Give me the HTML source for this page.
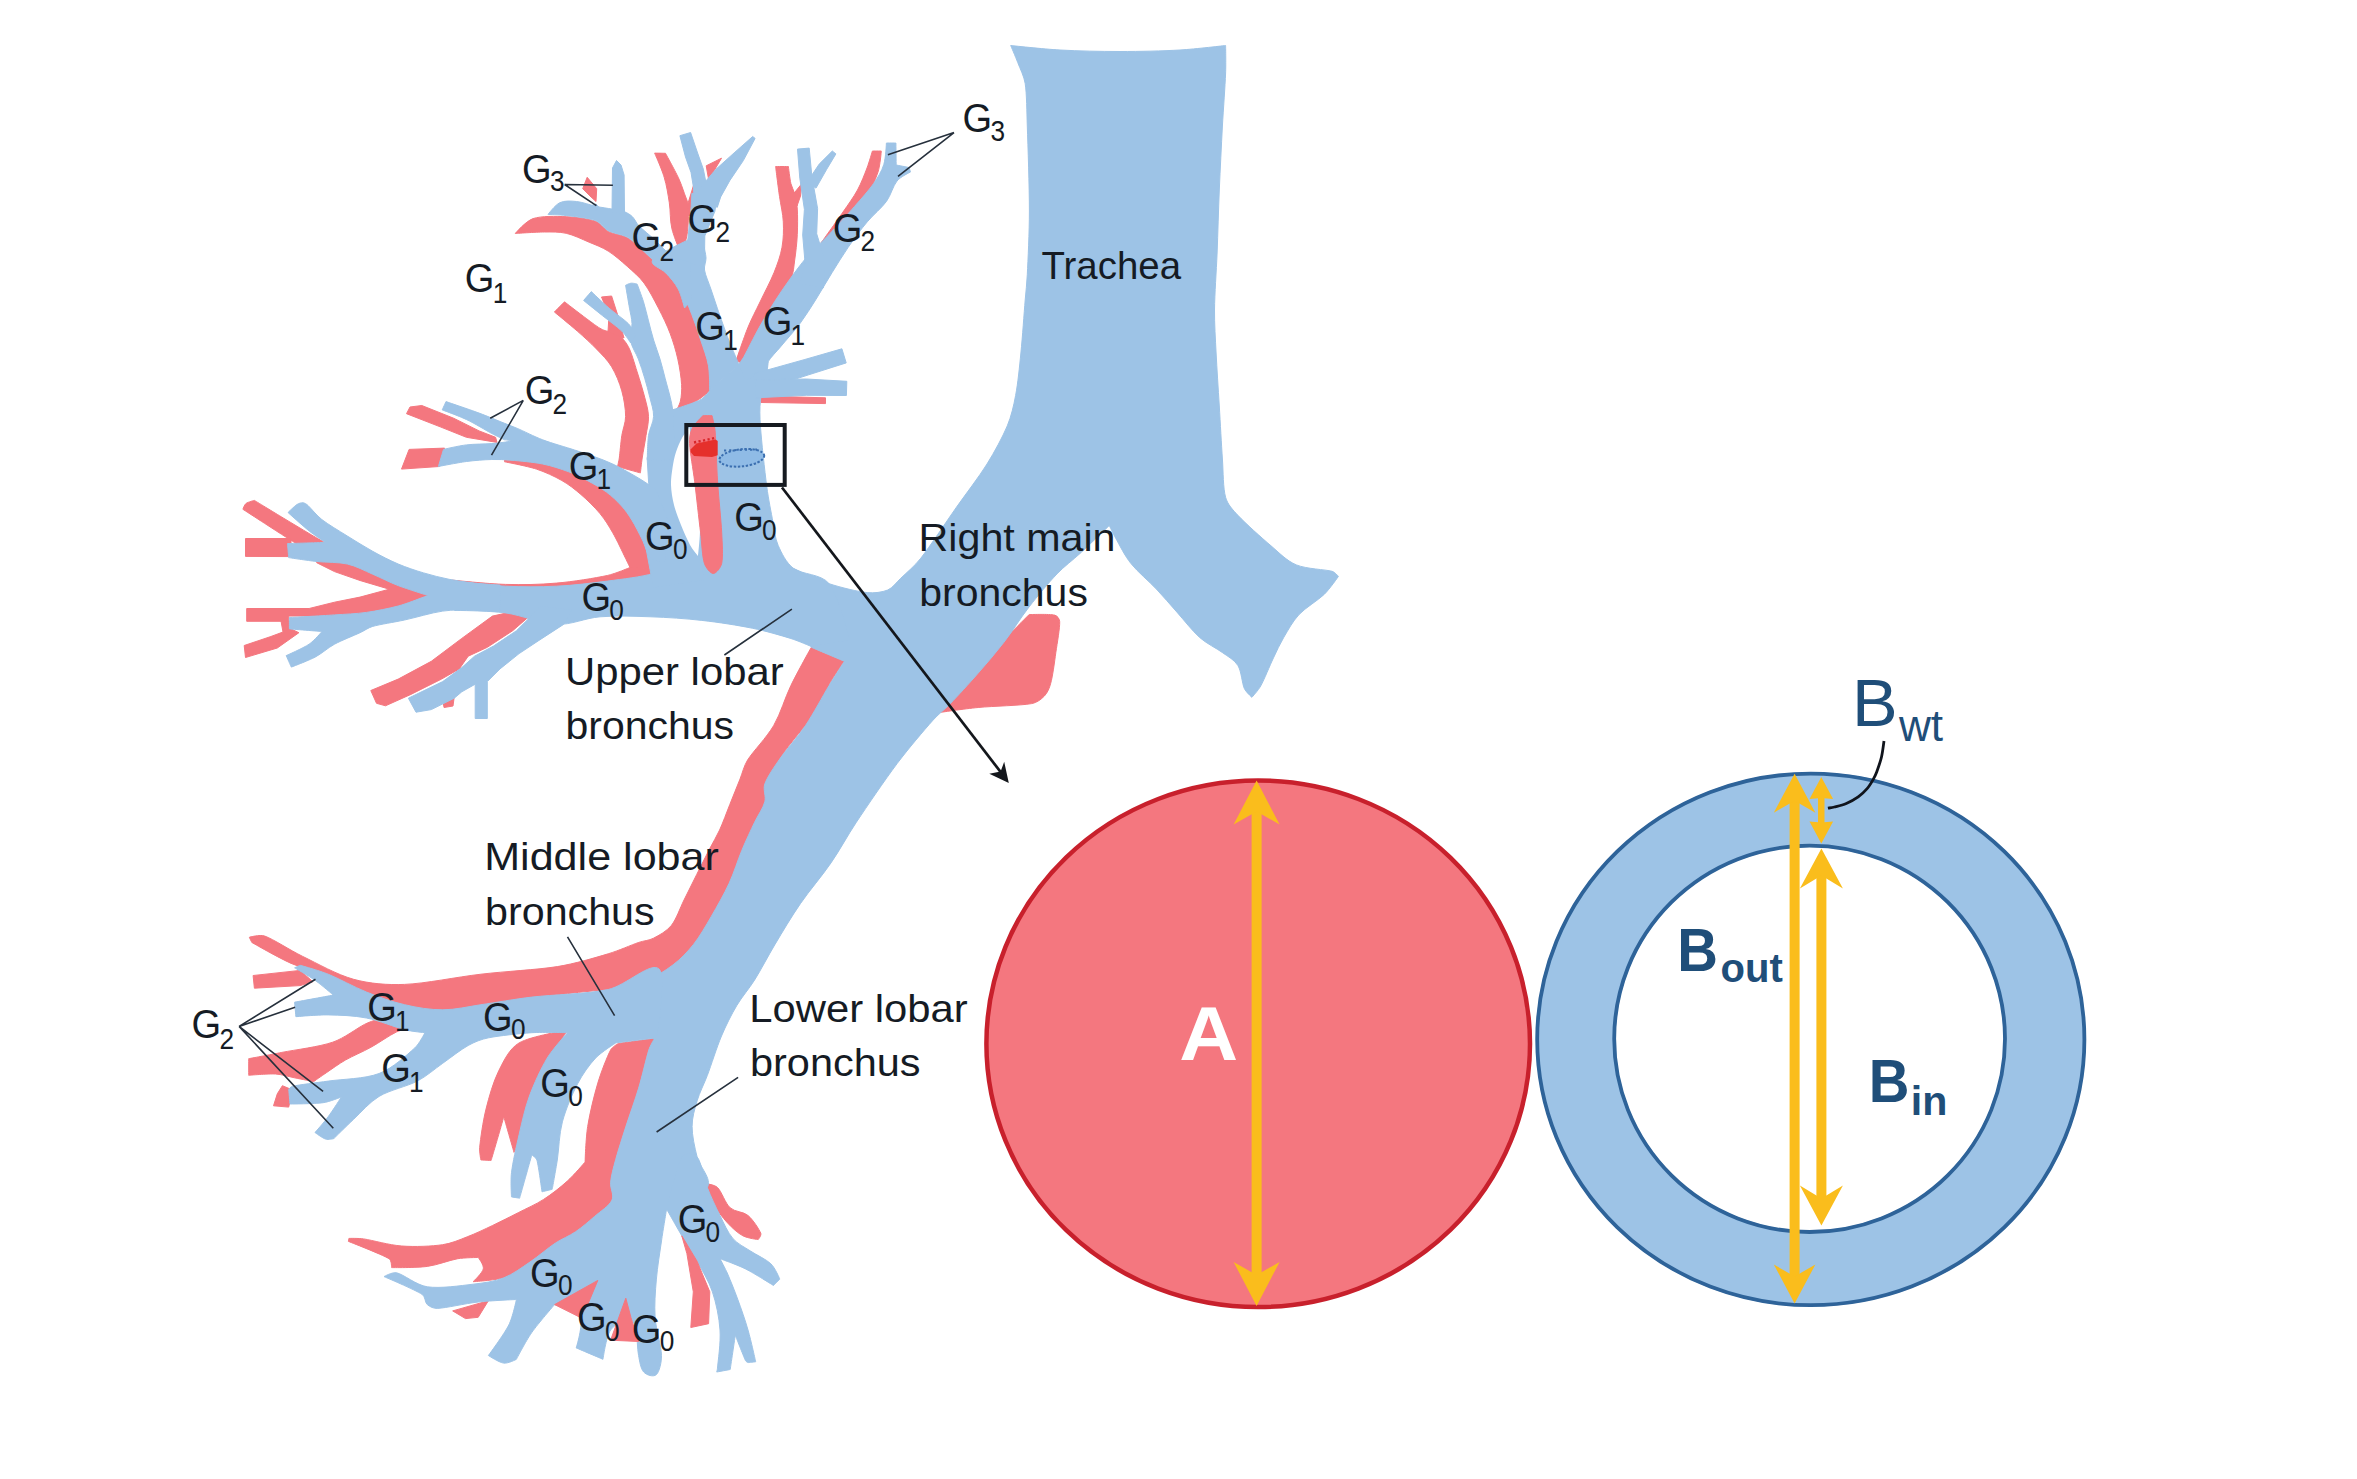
<!DOCTYPE html>
<html><head><meta charset="utf-8"><title>Bronchial tree</title>
<style>html,body{margin:0;padding:0;background:#fff;overflow:hidden}svg{display:block}text{font-family:"Liberation Sans",sans-serif}</style></head><body>
<svg width="2357" height="1479" viewBox="0 0 2357 1479">
<rect width="2357" height="1479" fill="#fff"/>
<g fill="#f4777f" stroke="#f4777f" stroke-width="1" stroke-linejoin="round">
<path d="M1029.1 614.6 C1029.1 614.6 1049.5 613.9 1054.6 615.1 C1057.3 615.7 1059.6 618.9 1059.7 621.7 C1059.9 628 1057.3 642.5 1055.8 652.7 C1054.4 663 1052.7 676.1 1050.7 683.3 C1049.5 687.9 1047.6 692.6 1044.4 696 C1041.2 699.4 1036.5 702.8 1031.7 703.6 C1020.6 705.6 993.7 706 978.2 707.5 C965 708.7 938.7 712.6 938.7 712.6 C938.7 712.6 978.2 665.5 978.2 665.5 C978.2 665.5 1029.1 614.6 1029.1 614.6Z"/>
<path d="M811.3 647.3 C811.3 647.3 844.4 661.3 844.4 661.3 C844.4 661.3 831.3 679 829.1 685.5 C827.5 690.1 833.4 695.8 830.9 700 C827 706.7 813.3 716.4 805.5 725.5 C797 735.2 786 748.8 780 758.5 C775.3 766.4 771.5 776.8 769.8 784 C768.5 789.8 771.7 796.2 769.8 801.8 C767.7 808.2 760.8 815.1 757.1 822.2 C752.9 830.3 748.3 840.7 744.4 850.2 C740.1 860.4 736.6 872.6 731.7 883.3 C726.6 894.3 719.8 906.2 713.8 916.4 C708.3 925.9 702.4 936.1 696 944.4 C690 952.2 683.6 960.1 675.6 966 C666.7 972.6 653.6 979.6 642.6 983.8 C632 987.9 615.2 990.5 609.5 991.5 C608.7 991.6 609 989.4 608.2 989.5 C595.3 990.5 553.1 995 531.8 997.6 C514.8 999.7 495.8 1003.1 480.9 1005.2 C468.2 1007.1 455.5 1010.3 442.7 1010.3 C430 1010.3 417.1 1008.2 404.6 1005.2 C391.8 1002.3 378.8 997.5 366.4 992.5 C353.6 987.4 340.5 979.4 328.2 974.7 C316.6 970.2 304 968.8 292.6 964 C279.8 958.6 251.8 942.4 251.8 942.4 C251.8 942.4 249.3 937.3 249.3 937.3 C249.3 937.3 259.7 934.3 264.6 936 C273.5 939.2 289.8 950.1 302.7 956.4 C317.6 963.6 336.7 974.6 353.6 979.3 C370.1 983.8 387.5 985.1 404.6 984.4 C425.8 983.5 455.5 977.2 480.9 974.2 C506.3 971.2 536.1 969.9 557.3 966.6 C574.6 963.8 594.6 957.9 608.2 953.8 C618.6 950.7 631.2 945 638.8 942.4 C643.6 940.7 649 940.6 653.5 938.2 C658.9 935.4 666.8 931.2 671.3 925.5 C676.4 919.1 679.8 908.5 684 900 C688.2 891.5 692.5 883 696.7 874.5 C700.9 866 705.7 856.5 709.5 849.1 C712.8 842.7 716.6 836.6 719.6 830 C723 822.6 726.4 813 729.8 804.5 C733.2 796 737 786.5 740 779.1 C742.5 772.7 744 765.8 747.6 760 C753.2 751.1 766.4 737.9 773.7 725.5 C780.9 713 784.6 698.5 790.9 685.5 C797.2 672.5 811.3 647.3 811.3 647.3Z"/>
<path d="M253.1 975.5 L300.2 970.4 L312.9 981.8 L300.2 985.6 L254.4 988.2Z"/>
<path d="M248.7 1058.7 C248.7 1058.7 270.8 1054.6 281.8 1052.4 C295.8 1049.7 318.9 1046.9 332.7 1042.2 C344.2 1038.3 356.9 1028.2 364.5 1024.4 C368.9 1022.2 373.7 1020.4 378.5 1019.3 C384.4 1017.9 400 1016 400 1016 C400 1016 414 1027 414 1027 C414 1027 401.9 1029.4 396.4 1032 C389.2 1035.4 379.4 1042.6 370.9 1047.3 C362.6 1051.9 352.9 1055.8 345.5 1060 C338.9 1063.8 331.7 1069.1 326.4 1072.7 C322.1 1075.6 313.6 1081.6 313.6 1081.6 C313.6 1081.6 300.9 1079.1 294.5 1077.8 C288.2 1076.5 281.9 1074.4 275.5 1074 C267.9 1073.6 248.7 1075.3 248.7 1075.3 C248.7 1075.3 248.7 1058.7 248.7 1058.7Z"/>
<path d="M282.4 1085.7 L292.6 1090 L288.7 1107.1 L273.5 1105.8 L277.3 1093.8Z"/>
<path d="M567.5 1030.2 C567.5 1030.2 530.6 1036.1 519.1 1042.9 C509.2 1048.8 503.9 1060.6 498.7 1070.9 C493.2 1082 489.2 1096.4 486 1109.1 C482.9 1121.6 480.5 1138.8 479.7 1147.3 C479.2 1151.5 480.9 1160 480.9 1160 C480.9 1160 491.1 1160.5 491.1 1160.5 C491.1 1160.5 496.6 1141.9 498.7 1134.6 C500.5 1128.6 503.8 1116.7 503.8 1116.7 C503.8 1116.7 507.2 1128.6 508.9 1134.6 C510.6 1140.5 514 1152.4 514 1152.4 C514 1152.4 520 1140.8 521.7 1134.6 C524.2 1125.2 524.8 1108.6 529.3 1096.4 C534 1083.6 543.3 1069.2 549.7 1058.2 C555.2 1048.6 567.5 1030.2 567.5 1030.2Z"/>
<path d="M618.4 1043.4 C618.4 1043.4 656.6 1038.3 656.6 1038.3 C656.6 1038.3 650.3 1045.6 648.7 1050 C645.7 1058.3 642.4 1075.6 638.6 1088.2 C634.7 1100.9 629.7 1114.5 625.8 1126.4 C622.3 1137.4 618.2 1150.1 615.7 1159.5 C613.6 1167 611.2 1175.6 610.6 1182.4 C610 1188.3 614.2 1194.7 611.8 1200.2 C608.9 1207 598.9 1217.2 592.7 1223.1 C587.5 1228.2 580.8 1231.5 574.9 1235.8 C568.6 1240.5 561.6 1246.4 554.6 1251.1 C546.9 1256.2 537.6 1261.9 529.1 1266.4 C520.9 1270.7 512.6 1275.4 503.6 1277.8 C494.3 1280.4 473.1 1281.7 473.1 1281.7 C473.1 1281.7 482.4 1273 483.3 1268.9 C484.1 1264.9 478.2 1257.5 478.2 1257.5 C478.2 1257.5 464.5 1257.6 457.8 1258.7 C449.3 1260.2 437.7 1265 427.3 1266.4 C416.2 1267.9 391.6 1267.6 391.6 1267.6 C391.6 1267.6 391.7 1260.3 389.1 1258.7 C381.9 1254.4 348.4 1241.4 348.4 1241.4 C348.4 1241.4 348.9 1238.4 348.9 1238.4 C348.9 1238.4 358.8 1238.2 363.6 1238.9 C372.5 1240.2 388.9 1245.1 401.8 1246 C415 1247 431.7 1246.3 442.6 1244.7 C451.1 1243.5 459.2 1240 467.2 1236.8 C475.6 1233.6 484.3 1229.4 492.7 1225.4 C501.2 1221.4 509.7 1217 518.2 1212.7 C526.6 1208.3 535.6 1204.6 543.6 1199.4 C551.8 1194.2 560.4 1187.3 567.3 1181.1 C573.8 1175.3 585.1 1162 585.1 1162 C585.1 1162 585.8 1138.1 587.7 1126.4 C589.8 1113.2 594 1095.8 597.8 1083.1 C601.2 1071.8 607.1 1056.6 610.6 1050 C612.1 1047 618.4 1043.4 618.4 1043.4Z"/>
<path d="M452.7 1310.9 L488.4 1300.7 L478.2 1317.3 L465.5 1318.6Z"/>
<path d="M704.8 1183.6 C704.8 1183.6 714.3 1184.4 717.5 1187.5 C721.7 1191.5 725.1 1203.2 730.2 1207.8 C735 1212.2 743.1 1211.3 748 1215.5 C753.1 1219.7 759.1 1229.3 760.8 1233.3 C761.6 1235.4 758.2 1239.6 758.2 1239.6 C758.2 1239.6 747.6 1238.3 742.9 1235.8 C737.8 1233.1 732.2 1228 727.7 1223.1 C722.6 1217.6 716.2 1209.3 712.4 1202.7 C708.9 1196.8 704.8 1183.6 704.8 1183.6Z"/>
<path d="M421.8 405.5 L453.6 418.2 L479.1 430.9 L495.6 437.3 L497 442.4 L466.4 437.3 L440.9 427.1 L406.5 413.7 L410 407Z"/>
<path d="M409.1 449.4 L444.5 448.1 L439.4 466.5 L401.5 469.1Z"/>
<path d="M504.5 460 C504.5 460 532.1 461.2 542.7 463 C551.4 464.5 560.8 467.9 568.2 470.6 C574.8 473 581.1 476.2 587.3 479.5 C593.7 482.9 600.7 486.8 606.4 491 C611.9 495.1 617.4 500.3 621.6 505 C625.5 509.3 628.8 514.1 631.8 519 C635.2 524.5 638.8 531.7 642 538.1 C645.1 544.4 648.4 552.1 650.9 557.2 C652.8 561.2 657 568.9 657 568.9 C657 568.9 630.2 568 630.2 568 C630.2 568 627.1 561.4 625.5 558.2 C622.6 552.3 617 540.1 612.7 532.7 C608.9 526.1 604.9 519.5 600 513.6 C594.7 507.2 587.3 500 580.9 494.5 C574.9 489.3 568.7 484.4 561.8 480.5 C554.4 476.3 545.2 472 536.4 469.1 C526.9 466 504.5 461.8 504.5 461.8 C504.5 461.8 504.5 460 504.5 460Z"/>
<path d="M452 580.1 C452 580.1 488.1 583.9 505.5 584.4 C522.4 584.9 539.5 584.6 556.4 583.1 C573.4 581.7 595 578.1 607.3 575.5 C615.2 573.8 630.2 567.4 630.2 567.4 C630.2 567.4 656.9 568.9 656.9 568.9 C656.9 568.9 653.1 583.6 653.1 583.6 C653.1 583.6 454.6 591.3 454.6 591.3 C454.6 591.3 452 580.1 452 580.1Z"/>
<path d="M254.4 500.4 C254.4 500.4 274.5 512.7 283.6 518.2 C292.1 523.3 302.3 529.5 309.1 533.5 C314.2 536.5 324.4 542.4 324.4 542.4 C324.4 542.4 300 546 300 546 C300 546 290.8 540.2 286.2 537.3 C280.3 533.5 271.7 528 264.5 523.3 C257.3 518.6 242.9 509.3 242.9 509.3 C242.9 509.3 244.3 504.8 246 503.5 C247.9 502 254.4 500.4 254.4 500.4Z"/>
<path d="M245.5 538.5 L291 538.5 L291 556.6 L245.5 556.4Z"/>
<path d="M316.7 560 L347.3 563 L372.7 573 L398.2 584.5 L428 595.5 L423.6 598 L398.2 607 L366.4 613.4 L334.5 616 L288.7 616 L288.7 621.3 L246.7 621.3 L246.7 608.5 L309.1 608.5 L334.5 602.2 L360 597.1 L389.3 589.2 L360 580.5 L334.5 571.6 L316.7 562.7Z"/>
<path d="M281 621 L291 621 L291 629 L298.9 632.7 L277.3 648 L245.5 657.5 L244.2 645.5 L270.9 636.5 L283 632Z"/>
<path d="M492.4 616.1 L461.8 638.4 L431.3 661.3 L398.2 679.1 L370.8 690.5 L376.5 703.3 L385.5 705.8 L410.9 694.4 L441.5 679.1 L459.3 668.9 L468.2 656.2 L487.3 647.3 L512.7 630.7 L528 617.4 L520 610Z"/>
<path d="M442.7 699 L454.2 697 L453 706 L444 707.5Z"/>
<path d="M554.4 312 C554.4 312 564.5 301.8 564.5 301.8 C564.5 301.8 579.8 313.7 586.2 318.4 C591.6 322.4 597.6 327.3 602.7 329.8 C607 332 612.6 331 616.7 333.6 C621 336.4 625.5 341.3 628.2 346.4 C631.6 352.8 634.4 363.3 637.1 371.8 C639.8 380.2 642.8 389.9 644.7 397.3 C646.3 403.6 648.3 410 648.5 416.4 C648.7 422.8 647 429.2 646 435.5 C645 442.4 643.1 451.8 642.2 458 C641.5 462.9 640.4 472.9 640.4 472.9 C640.4 472.9 617.5 466.6 617.5 466.6 C617.5 466.6 618.9 460.9 619.3 458 C620 452.8 620.8 442.4 621.8 435.5 C622.8 429.1 625.6 422.9 625.6 416.4 C625.6 409 624.1 399.2 621.8 390.9 C619.5 382.6 615.8 373.7 611.6 366.7 C607.6 360 601.8 354.5 596.4 348.9 C590.7 343 583.8 336.8 577.3 331.1 C570.3 325 554.4 312 554.4 312Z"/>
<path d="M601.5 297 L611.6 296 L618 316 L624 338 L608 332 L609 315Z"/>
<path d="M515.3 233.5 C515.3 233.5 525.8 221 533.1 218.6 C541.6 215.8 555.8 216.3 566.2 216.7 C576.1 217.1 588.5 218.8 595.5 221.2 C600.6 223 603.4 228.9 608.2 231.4 C613.5 234.2 622 234.8 627.3 237.7 C632.2 240.3 635.8 244.8 640 248.5 C644.2 252.2 648.6 256.1 652.7 260 C657 264 661.4 268.3 665.5 272.7 C670.1 277.6 676.5 282.8 680.4 289.1 C684.8 296.1 688.4 306 691.8 314.5 C695.1 322.9 697.9 331.5 700.7 340 C703.4 348.4 706.9 357 708.4 365.5 C709.9 373.8 709.6 390.9 709.6 390.9 C709.6 390.9 702.3 397.2 698.2 399.8 C692.5 403.4 675.3 412.6 675.3 412.6 C675.3 412.6 679.5 405.2 680.4 401.1 C681.5 396.4 681.9 390 681.6 384.5 C681.2 377.5 679.7 367.5 677.8 359.1 C675.9 350.6 673.3 341.9 670.2 333.6 C667 325.1 662.8 316.5 658.5 308.2 C654.1 299.8 649.2 290 644 283 C639.3 276.7 633.2 271.6 627.3 266.4 C621.3 261.1 614.6 255.1 608.2 251.1 C602.3 247.3 595.6 244.9 589.1 242.2 C582.1 239.2 573.6 235 566.2 233.3 C559.1 231.7 551.7 232 544.5 232 C536 232 515.3 233.5 515.3 233.5Z"/>
<path d="M654.6 153.1 C654.6 153.1 665.5 153.3 665.5 153.3 C665.5 153.3 675 170.6 678.2 177.3 C680.7 182.6 682.8 188.9 684.5 193.8 C686 198 688.1 202.1 688.4 206.5 C688.8 213.3 688.2 226.8 687.1 234.5 C686.2 240.6 682 252.4 682 252.4 C682 252.4 680.7 253 680.7 253 C680.7 253 673.7 236.6 671.8 228.2 C669.9 219.9 670.6 211.1 669.3 202.7 C668 194.2 666.7 185.6 664.2 177.3 C661.8 169 654.6 153.1 654.6 153.1Z"/>
<path d="M687.5 205 L694.7 181.5 L696.5 191.3 L689 216Z"/>
<path d="M706.2 165.8 L721.5 158.2 L708.7 179.8Z"/>
<path d="M775.6 166.5 C775.6 166.5 788.4 166.5 788.4 166.5 C788.4 166.5 789.8 179 790.9 183.6 C791.7 187.1 793.8 190.3 794.7 193.8 C795.8 198.1 797 203.9 797.3 209.1 C797.7 215.9 797.7 226 797.3 234.5 C796.9 243 795.8 252.6 794.7 260 C793.8 266.4 793.6 273.2 790.9 279.1 C787.3 287.1 777.2 300.9 773.1 308 C770.5 312.5 768.7 317.5 766 322 C760.6 331.1 741 362.5 741 362.5 C741 362.5 736 361 736 361 C736 361 744 337.1 748 327.3 C751.5 318.7 756 310.4 760 302 C764.3 292.9 770.3 281.8 774 272.7 C777.3 264.5 780.5 255.8 782 247.3 C783.5 238.9 783.7 230.3 783.3 221.8 C782.9 213.3 780.7 204.9 779.5 196.4 C778.2 187.2 775.6 166.5 775.6 166.5Z"/>
<path d="M794.2 193 L801.5 184 L800.5 196 L797 206Z"/>
<path d="M872.4 151 C872.4 151 881.3 151 881.3 151 C881.3 151 880.2 165.3 878 172 C875.5 179.8 870.7 189.7 866 198 C861.3 206.3 856.2 214.6 850 222 C843.3 230 826 246 826 246 C826 246 821 243 821 243 C821 243 836.9 220.8 843 212 C848 204.8 853.5 197.3 857.5 190 C861.3 183 864.5 174.5 867 168 C869.1 162.4 872.4 151 872.4 151Z"/>
<path d="M761 396 L825.5 397.8 L825.5 403.6 L761 402.5Z"/>
<path d="M587.2 177.3 L596.7 188.7 L596 201.5 L590 196 L582.7 188.7Z"/>
</g>
<g fill="#9dc3e6" stroke="#9dc3e6" stroke-width="1" stroke-linejoin="round">
<path d="M1010.7 45.5 C1010.7 45.5 1043.5 49.1 1060 50 C1078.2 51 1100 51.5 1120 51.5 C1140 51.5 1162.4 51 1180 50 C1195.2 49.1 1225.6 45.5 1225.6 45.5 C1225.6 45.5 1226 63.8 1225.6 73 C1225.1 86.4 1223.4 108.3 1222.4 126 C1221.4 145.5 1220.2 168.8 1219.3 190 C1218.4 211 1217.9 233 1217.1 253 C1216.3 272 1214.7 293.3 1214.5 310 C1214.4 324.3 1215.4 338.7 1216.1 353 C1216.9 369 1218.2 388.3 1219.3 406 C1220.3 423.7 1221.4 443.8 1222.4 459 C1223.3 471.8 1223 487.9 1225.6 497.3 C1227.5 504.3 1232.9 510 1237.9 515.3 C1245.5 523.4 1261.2 537.5 1271 545.8 C1279.1 552.7 1286.6 560.8 1296.4 564.9 C1306.6 569.1 1325.1 569.4 1332.1 571.3 C1334.7 572 1338.4 576.4 1338.4 576.4 C1338.4 576.4 1329.8 588.9 1324.4 594.2 C1317.8 600.6 1305.8 607.4 1299 614.6 C1292.7 621.3 1288 630.3 1283.7 637.5 C1279.9 644 1276.7 651 1273.5 657.8 C1269.7 665.8 1264.4 679.2 1260.8 685.8 C1258.5 690.1 1251.9 697.3 1251.9 697.3 C1251.9 697.3 1245.9 692 1244.3 688.4 C1242 683.1 1241.5 671.5 1237.9 665.5 C1234.4 659.8 1228 656.6 1222.6 652.7 C1216.2 648 1206.5 643.6 1199.7 637.5 C1192.1 630.7 1184 620.1 1176.8 612 C1170 604.4 1163.4 596.5 1156.4 589.1 C1148.8 581 1137.8 572.1 1131 563.6 C1124.8 555.9 1119.3 544.6 1115.7 538.2 C1113.4 534.1 1109.3 525.5 1109.3 525.5 C1109.3 525.5 1088.7 545.5 1080 553.5 C1072.5 560.4 1064.1 566.4 1057.1 573.8 C1048.6 582.7 1038 595.5 1029.1 606.9 C1020.2 618.4 1012.2 631.6 1003.7 642.6 C995.6 653.1 986.9 663.1 978.2 673.1 C969.3 683.3 957.8 695.8 950.2 703.7 C944.6 709.5 938.1 714.4 932.8 720.4 C923.9 730.4 908.3 748.7 897.1 763.6 C884.4 780.6 867.4 805.7 856.4 822.2 C847.5 835.5 840.1 849.7 831 862.9 C821.7 876.5 809.7 890.1 800.4 903.7 C791.3 916.9 782.6 931.7 775 944.4 C768 956.1 761 969.8 754.6 980 C749.1 988.8 742.1 996.6 736.8 1005.5 C731.3 1014.8 725.9 1025.5 721.5 1036 C716.6 1047.7 711.4 1064.7 707.3 1075.5 C704.1 1084 699.6 1092.4 697.1 1100.9 C694.6 1109.2 692.1 1117.7 692.1 1126.4 C692.1 1135.7 694.6 1146.9 697.1 1156.9 C699.6 1167.1 712.4 1178.8 707.3 1187.5 C702.2 1196.2 666.6 1209.1 666.6 1209.1 C666.6 1209.1 663 1230.3 661.5 1240.9 C659.8 1252.6 657.5 1266.4 656.4 1279.1 C655.3 1291.8 654.3 1304.6 655.1 1317.3 C656 1330 661.3 1346 661.5 1355.5 C661.6 1362.1 659.4 1371.8 656.4 1374.6 C653.4 1377.3 646.6 1375.2 643.7 1372 C640.7 1368.8 639.6 1361.2 638.6 1355.5 C637.3 1348.5 637.3 1336.4 636 1330 C635.1 1325.4 631 1317 631 1317 C631 1317 615.1 1323.3 610.6 1330 C605.9 1337 603 1359.3 603 1359.3 C603 1359.3 576.2 1347.9 576.2 1347.9 C576.2 1347.9 583.6 1324.5 580 1317.3 C576.4 1310.1 554.6 1304.6 554.6 1304.6 C554.6 1304.6 538.1 1323.5 531.7 1332.6 C525.8 1341 516.4 1359.3 516.4 1359.3 C516.4 1359.3 508.1 1363.7 503.7 1363.1 C499 1362.5 488.4 1355.5 488.4 1355.5 C488.4 1355.5 504.1 1334.3 508.8 1325 C512.8 1317.1 516.4 1299.5 516.4 1299.5 C516.4 1299.5 490.9 1300.6 478.2 1302 C465.1 1303.5 446 1308 437.5 1308.4 C433.9 1308.6 429.9 1306.9 427.3 1304.6 C424.8 1302.3 425.4 1296.5 422.2 1294.4 C415 1289.7 384 1276.6 384 1276.6 C384 1276.6 392.4 1271.8 396.7 1272.8 C403.9 1274.5 416.2 1285.1 427.3 1286.8 C440 1288.7 460.4 1285.7 473.1 1284.2 C483.4 1283 494.2 1281.6 503.7 1277.9 C513.2 1274.2 521.5 1267.7 530 1262 C538.6 1256.2 547.9 1248 555.5 1243 C561.9 1238.8 569.2 1236.1 575.5 1231.8 C582 1227.4 588.4 1221.8 594.5 1216.5 C600.5 1211.3 609.2 1205.9 611.9 1200.2 C614.4 1194.8 610 1188.3 610.6 1182.4 C611.2 1175.6 613.6 1167 615.7 1159.5 C618.2 1150.2 622.4 1137.4 625.9 1126.4 C629.7 1114.5 634.8 1100.9 638.6 1088.2 C642.4 1075.6 646.2 1058.2 648.8 1050 C650 1046.1 654.1 1039.1 654.1 1039.1 C654.1 1039.1 609.5 990.2 609.5 990.2 C609.5 990.2 632.1 986.8 642.6 982.6 C653.2 978.4 664.6 971.2 673.1 964.8 C680.8 959 687.5 951.9 693.5 944.4 C699.9 936.3 705.7 926 711.3 916.4 C717.2 906.2 724 894.3 729.1 883.3 C734.1 872.6 737.6 860.4 741.9 850.2 C745.8 840.7 750.8 830.3 754.6 822.2 C757.9 815.3 763.1 808.2 764.8 801.8 C766.3 796.1 762.8 789.6 764.8 784 C767.3 776.8 774.4 766.7 780 758.6 C786.8 748.9 797.7 737.1 805.5 725.5 C813.7 713.3 822.6 696.2 829.1 685.5 C834 677.3 844.4 661.3 844.4 661.3 C844.4 661.3 811.3 647.3 811.3 647.3 C811.3 647.3 793.5 568.4 793.5 568.4 C793.5 568.4 816.8 579.7 829.1 583.7 C841.4 587.7 857.5 591.6 867.3 592.6 C874.1 593.3 882.2 592.3 887.7 590 C892.9 587.8 896.3 582.5 900.4 578.6 C905.9 573.3 914.9 565.8 920.8 558.2 C930.1 546.3 945.4 523 956.4 507.3 C966.6 492.8 978.5 477.6 987 464 C994.6 451.8 1002.5 437.2 1007.3 425.8 C1011.3 416.1 1013.7 405.8 1015.6 395.5 C1017.9 383.4 1019.5 367.2 1020.9 353 C1022.5 337.1 1024.1 313.1 1025.2 300 C1025.9 291.5 1026.9 283.1 1027.3 274.6 C1028 259.8 1029.4 232.2 1029.4 211 C1029.4 186.2 1028 147.2 1027.3 126 C1026.8 111.9 1026.8 94.2 1025.2 83.6 C1024.1 76.2 1020.1 68.8 1017.7 62.4 C1015.5 56.7 1010.7 45.5 1010.7 45.5Z"/>
<path d="M666.6 1209.1 C666.6 1209.1 676.8 1227.1 681.8 1235.8 C686.8 1244.4 692.4 1252.6 697.1 1261.3 C702.2 1270.6 708.8 1281 712.4 1291.8 C716.2 1303.3 719.2 1317.3 720 1330 C720.9 1342.7 718 1361.2 717.5 1368.2 C717.4 1369.5 716.7 1372 716.7 1372 C716.7 1372 730.2 1369.5 730.2 1369.5 C730.2 1369.5 735.3 1335.1 735.3 1335.1 C735.3 1335.1 743.4 1356 745.5 1360.6 C745.9 1361.6 748 1362.6 748 1362.6 C748 1362.6 755.7 1361.8 755.7 1361.8 C755.7 1361.8 751 1340.4 748 1330 C745.1 1319.7 741.2 1308.8 737.8 1299.5 C734.7 1290.9 730.6 1280.8 727.7 1274 C725.4 1268.8 720 1258.7 720 1258.7 C720 1258.7 737.3 1264.8 745.5 1268.9 C754.4 1273.4 773.5 1285.5 773.5 1285.5 C773.5 1285.5 779.8 1279.1 779.8 1279.1 C779.8 1279.1 775.2 1267.9 770.9 1263.8 C766.1 1259.2 756.9 1255.3 750.6 1251.1 C744.5 1247.1 737.5 1243.9 732.8 1238.4 C727.7 1232.4 723.9 1223.3 720 1215.5 C715.8 1207 711 1197 707.3 1187.5 C703.5 1177.7 701.4 1162 697.1 1156.9 C693.9 1153 684.4 1152.5 681.8 1156.9 C676.8 1165.6 666.6 1209.1 666.6 1209.1Z"/>
<path d="M829.1 583.7 C821.1 573.6 802 574.8 793.5 568.4 C786.2 562.9 781.6 553.1 778.2 545.5 C775 538.4 774.6 530.3 773.1 522.6 C771.2 512.8 768.4 498.9 766.8 486.9 C764.7 470.8 761.4 440.3 760.4 425.8 C759.8 417.2 759.5 408.5 760.5 400 C761.6 391 765.6 378.2 766.9 371.8 C767.6 368.4 768.2 361.6 768.2 361.6 C768.2 361.6 738.9 364.2 738.9 364.2 C738.9 364.2 709.6 390.9 709.6 390.9 C709.6 390.9 703.9 398 700 400 C693.7 403.2 672 410 672 410 C672 410 668.7 430.1 670 440 C671.3 450 679.1 459.5 680 470 C681.7 490 684.5 542.8 680 560 C677.5 569.7 662.8 570.7 653.2 573.5 C641.1 577 622.7 579.1 607.3 581.1 C591.2 583.2 573.4 585.4 556.4 586.2 C539.5 587 522.4 587 505.5 586.2 C488.5 585.4 454.6 581.1 454.6 581.1 C454.6 581.1 454.6 610.4 454.6 610.4 C454.6 610.4 488.7 610.6 505.5 612.9 C522.5 615.2 540.6 623.8 556.4 624.4 C571.1 625 585.3 618 600 616.8 C615.8 615.5 633.9 616.2 650.9 616.8 C667.9 617.4 684.9 618.5 701.8 620.4 C718.8 622.3 737.9 625.3 752.7 628.3 C765.6 630.9 781.1 635.5 790.9 638.5 C797.9 640.7 811.3 646.5 811.3 646.5 C811.3 646.5 850 640 850 640 C850 640 838.5 595.6 829.1 583.7Z"/>
<path d="M703.7 579.9 L698 528.5 L676.9 479.9 L674.5 455.3 L647.1 457.5 L648.7 483.7 L643.9 536.9 L653.4 587.4Z"/>
<path d="M625.6 285.3 C625.6 285.3 629.1 283.4 631 283.2 C632.9 283 637.1 284 637.1 284 C637.1 284 641.6 295.8 643.5 301.8 C645.4 307.9 646.8 314.5 648.5 320.9 C650.2 327.3 651.7 333.7 653.6 340 C655.5 346.4 658.1 352.7 660 359.1 C661.9 365.4 663.4 371.8 665.1 378.2 C666.8 384.6 668.9 392 670.2 397.3 C671.2 401.5 672.2 405.7 672.7 410 C673.3 415.4 673.6 423.3 674 430 C674.5 438.3 676 460 676 460 C676 460 647.3 460 647.3 460 C647.3 460 647.5 442.8 648.5 435.5 C649.4 429 653.4 422.8 653.6 416.4 C653.8 410 651.3 403.6 649.8 397.3 C648.3 390.9 646.6 384.5 644.7 378.2 C642.8 371.8 640.7 365.2 638.4 359.1 C636.1 353.1 631.8 347.2 630.7 341.3 C629.6 335.4 632.2 329 632 323.5 C631.8 318.3 630.4 313.3 629.5 308.2 C628.4 301.8 625.6 285.3 625.6 285.3Z"/>
<path d="M591.3 291.6 C591.3 291.6 603 302.9 609.1 308.2 C615.2 313.5 623.7 319 628.2 323.5 C631.5 326.8 636 335 636 335 C636 335 630.7 343 630.7 343 C630.7 343 625.4 334.6 621.8 331.1 C617.1 326.6 609.1 320.9 602.7 315.8 C596.3 310.7 583.6 300.5 583.6 300.5 C583.6 300.5 591.3 291.6 591.3 291.6Z"/>
<path d="M446 401.6 C446 401.6 469.4 409.5 479.1 413.1 C487.7 416.3 498.1 420.8 504.5 423.3 C508.8 425 513.1 426.6 517.3 428.4 C523.7 431.1 534 436.5 542.7 439.8 C552.2 443.4 566 447.2 574.5 450 C580.9 452.1 587.3 454.1 593.6 456.4 C600 458.7 606.5 461.1 612.7 464 C619.1 467 626.5 471.2 631.8 474.2 C636.1 476.6 640.5 479.2 644.5 481.8 C648.4 484.4 656 490 656 490 C656 490 668 520 668 520 C668 520 665 562 665 562 C665 562 654.3 561.6 650.9 558.2 C647.1 554.4 645.1 545.4 642 539.1 C638.8 532.7 635.2 525.5 631.8 520 C628.8 515.1 625.5 510.3 621.6 506 C617.4 501.3 611.9 496.1 606.4 492 C600.7 487.8 593.7 483.9 587.3 480.5 C581.1 477.2 574.8 474 568.2 471.6 C560.8 468.9 551.4 465.7 542.7 464 C533.2 462.1 519.4 460.9 510.9 460.2 C504.6 459.6 498.2 459.3 491.8 459.5 C484.4 459.7 474.8 460.4 466.4 461.5 C457.5 462.7 438.4 466.5 438.4 466.5 C438.4 466.5 443.5 449.4 443.5 449.4 C443.5 449.4 458.7 445.8 466.4 444.9 C474.4 443.9 484.4 444.2 491.8 443.6 C498.2 443.1 508.8 441.7 510.9 441.1 C513 440.5 504.5 439.8 504.5 439.8 C504.5 439.8 496 435.7 491.8 433.5 C485.4 430.1 474.7 423.4 466.4 419.5 C458.6 415.8 442.2 409.9 442.2 409.9 C442.2 409.9 446 401.6 446 401.6Z"/>
<path d="M288 512.5 C288 512.5 294.5 506.1 297 504.5 C298.7 503.4 301.2 502.6 303 502.8 C304.8 503 306.6 504.2 308 505.5 C311.1 508.3 316.6 515.5 321.8 519.5 C328.4 524.6 338.8 530.7 347.3 536 C355.7 541.2 364.2 546.6 372.7 551.3 C381 555.9 389.7 560.4 398.2 564 C406.5 567.5 415.1 570.4 423.6 572.9 C432 575.4 440.6 577.6 449.1 579.3 C457.5 581 466.1 582.1 474.6 583.1 C483 584 500 585 500 585 C500 585 500 611 500 611 C500 611 483.1 609.8 474.6 609.8 C465.1 609.8 453.2 609.6 442.7 611.1 C431 612.8 416.2 617.5 404.5 620 C393.9 622.3 380.1 624.3 372.7 626.4 C368.2 627.7 364.3 630.7 360 632.7 C353.6 635.7 341.9 640.2 334.5 644.2 C327.8 647.8 322.2 653.3 315.5 656.9 C308.3 660.7 291.3 667.1 291.3 667.1 C291.3 667.1 286.2 655.6 286.2 655.6 C286.2 655.6 303.1 648.2 309.1 644.2 C314.1 640.8 322 631.5 322 631.5 C322 631.5 289.4 628.9 289.4 628.9 C289.4 628.9 289.4 617.5 289.4 617.5 C289.4 617.5 321.7 615.8 334.5 614.9 C345.1 614.2 355.8 613.9 366.4 612.4 C377 610.9 388.7 608.5 398.2 606 C406.9 603.7 418.6 598.9 423.6 597.1 C425.1 596.6 428 595.5 428 595.5 C428 595.5 407.4 589.1 398.2 585.6 C389.5 582.3 381.2 577.8 372.7 574.2 C364.3 570.6 356.2 566 347.3 564 C338 561.9 326.5 562.6 316.7 561.5 C307.3 560.5 288.7 557.6 288.7 557.6 C288.7 557.6 287.5 543.6 287.5 543.6 C287.5 543.6 325.6 542.4 325.6 542.4 C325.6 542.4 314.3 535.1 309.1 530.9 C302.8 525.9 288 512.5 288 512.5Z"/>
<path d="M529.3 618 L516.5 630.7 L493.6 646 L474.5 656.2 L461.8 667.6 L442.7 681.6 L408.4 698.2 L416 712.2 L431.3 709.6 L454.2 698.2 L461.8 691.8 L475.2 684.2 L475.2 718.5 L487.3 718.5 L487.3 681.6 L500 668.9 L519.1 653.6 L538.2 640.9 L563.6 624.4 L572 610 L540 606Z"/>
<path d="M738.9 364.2 C738.9 364.2 742.5 359.2 744 356.5 C747.4 350.4 754.2 336.4 759.3 327.3 C764.1 318.7 769.4 309.9 774.5 301.8 C779.4 294 784.8 286.3 790 279 C795.1 271.9 801.2 263.7 806 258 C810 253.3 815 248.6 818.9 244.7 C822.3 241.3 825.8 238 829.1 234.5 C835 228.1 847.1 215 854.5 206.5 C861 199 868.7 190.6 873.6 183.6 C877.7 177.7 881.7 171.3 883.8 164.5 C885.9 157.7 886.4 143 886.4 143 C886.4 143 895.9 143 895.9 143 C895.9 143 896.2 165 896.2 165 C896.2 165 909 167.5 909 167.5 C909 167.5 910.5 172 910.5 172 C910.5 172 900.4 176.8 897 181 C893 185.9 890.9 195.3 886.4 201.5 C881.4 208.3 873.3 214.7 867.3 221.8 C860.9 229.4 854.1 238.8 848.2 247.3 C842.5 255.6 837.3 264.2 832 272.7 C826.6 281.4 821.3 290.8 816 299.3 C810.8 307.5 805.8 315.7 800 323.5 C794.1 331.4 786.2 340 780.9 346.4 C776.7 351.5 770.5 357.4 768.2 361.6 C766.5 364.6 766.9 371.8 766.9 371.8 C766.9 371.8 745 380 745 380 C745 380 738.9 364.2 738.9 364.2Z"/>
<path d="M823.4 287.8 L825.5 262.6 L816.7 233.8 L817.6 208.5 L811.9 176.6 L809.2 148.1 L797.5 149.1 L799.8 178.2 L804.4 209.4 L802.7 235 L805.1 263.3 L799.5 283.8Z"/>
<path d="M816 188.1 L826.7 169.3 L835.9 153.9 L832.3 151 L819.2 164.1 L806.9 182.5Z"/>
<path d="M652.7 260 C649.3 265 661.4 268.3 665.5 272.7 C670.1 277.6 676.5 282.8 680.4 289.1 C684.8 296.1 688.4 306 691.8 314.5 C695.1 322.9 697.9 331.5 700.7 340 C703.4 348.4 706.9 357 708.4 365.5 C709.9 373.8 709.6 390.9 709.6 390.9 C709.6 390.9 738.9 364.2 738.9 364.2 C738.9 364.2 731.9 348.2 728.7 340 C725.1 330.7 720.3 316.7 717.3 308.2 C715.1 301.9 713 295.5 710.9 289.1 C708.8 282.7 705.3 275.2 704.5 270 C703.9 266 706.1 261.8 706 258 C705.9 254.3 704 247 704 247 C704 247 688 240 688 240 C688 240 656.5 254.6 652.7 260Z"/>
<path d="M702.6 267.1 L704.6 249.5 L704.8 235.9 L714.9 211.3 L717.2 196.1 L691.9 193.3 L691.2 206.6 L688.5 232.9 L687.2 245.8 L678.5 258.7Z"/>
<path d="M708.2 201.3 L706.5 185.2 L703.3 169.1 L697.6 153 L690.6 132.5 L679.9 135.7 L685.5 157 L691 172.4 L693.4 186.9 L694.3 202.4Z"/>
<path d="M717.3 207.3 L720.7 196.9 L729.9 180.4 L743.3 160.6 L755.1 138.4 L752.7 136.5 L734.1 152.9 L715.9 169.3 L701.7 185.9 L695.9 198.9Z"/>
<path d="M548 214.5 C548 214.5 555.1 204.9 559.8 202.7 C564.5 200.5 570.9 200.9 576.4 201.5 C582.5 202.1 590.8 205.2 596.7 206.5 C601.8 207.6 607.4 208.2 612 209.1 C616 209.9 620.7 210.3 624.1 211.6 C627.1 212.7 630.1 214.5 632.4 216.7 C634.8 219 636.2 223 638.7 225.6 C642.5 229.5 649.6 235.1 655 240 C660.5 245.1 666.2 252.3 672 256 C677.4 259.4 690 262 690 262 C690 262 692 300 692 300 C692 300 684.5 308 684.5 308 C684.5 308 681.3 294.9 678.2 289 C675 283 669.8 277.1 665.5 272.2 C661.6 267.7 657 263.5 652.7 259.5 C648.6 255.6 644.2 251.7 640 248 C635.8 244.3 632.2 239.8 627.3 237.1 C622 234.2 613.5 233.5 608.2 230.7 C603.4 228.2 600.6 222.3 595.5 220.5 C588.5 218 574.1 216.5 566.2 215.5 C560.2 214.7 548 214.5 548 214.5Z"/>
<path d="M612 212 L612.5 168 L616.5 160.5 L621 165 L624.1 175 L624.5 214Z"/>
<path d="M590 206 L596 204 L598.5 207 L596 211Z"/>
<path d="M758 391.1 L808.7 374.8 L846.2 362.9 L841.9 348.8 L804.1 359.7 L752.9 374Z"/>
<path d="M755.8 397.8 L806.4 395.3 L846.4 395.5 L846.8 381.3 L806.3 379 L755.2 380Z"/>
<path d="M659.1 969.1 C651.1 961 626.1 985.5 608.2 989.5 C587 994.1 553.1 994.6 531.8 997.1 C514.8 999.1 495.8 1002.6 480.9 1004.7 C468.2 1006.6 455.5 1009.8 442.7 1009.8 C430 1009.8 417.1 1007.7 404.6 1004.7 C391.8 1001.8 378.8 997 366.4 992 C353.6 986.9 339.2 978.6 328.2 974.2 C319.1 970.5 300.2 965.3 300.2 965.3 C300.2 965.3 294.6 967.8 294.6 967.8 C294.6 967.8 309 976 315.5 980.6 C321.7 985 333.3 995.1 333.3 995.1 C333.3 995.1 294.6 1002.2 294.6 1002.2 C294.6 1002.2 295.9 1016.7 295.9 1016.7 C295.9 1016.7 317.4 1014.7 328.2 1014.9 C339.9 1015.1 353.8 1015.5 366.4 1018 C379.1 1020.4 394.8 1027.2 404.6 1029.7 C411.2 1031.4 424.9 1032.7 424.9 1032.7 C424.9 1032.7 419.3 1043.9 414.7 1048 C407.1 1054.8 392.7 1068.3 379.1 1073.5 C364.7 1079 342.6 1079 328.2 1081.1 C316.3 1082.8 299.1 1084.8 292.6 1086.2 C291 1086.5 288.7 1089.2 288.7 1089.2 C288.7 1089.2 290 1104 290 1104 C290 1104 314.5 1103.9 323.1 1102.7 C329.5 1101.9 341.4 1096.9 341.4 1096.9 C341.4 1096.9 332.6 1110.8 328.2 1116.7 C324.1 1122.3 315 1132.5 315 1132.5 C315 1132.5 322.5 1138.1 325.6 1139.1 C328.2 1140 333.8 1138.6 333.8 1138.6 C333.8 1138.6 346.9 1125.6 353.6 1119.3 C361.2 1112.2 369.3 1102.3 379.1 1096.4 C389.7 1090 406.7 1086.6 417.3 1081.1 C426.5 1076.3 434.3 1069.2 442.7 1063.3 C451.2 1057.3 460.6 1049.7 468.2 1045.5 C474.5 1041.9 481.5 1039.2 488.6 1037.8 C499.2 1035.7 518.7 1033.6 531.8 1032.7 C543.7 1032 567.5 1032.7 567.5 1032.7 C567.5 1032.7 552.7 1048.9 547.1 1058.2 C540.8 1068.8 534 1083.6 529.3 1096.4 C524.8 1108.7 522.1 1121.8 519.1 1134.6 C516.2 1147.2 512.7 1162.4 511.5 1172.7 C510.5 1180.7 511.5 1196.9 511.5 1196.9 C511.5 1196.9 519.6 1198.2 519.6 1198.2 C519.6 1198.2 524.7 1180 526.8 1172.7 C528.4 1166.8 531.8 1154.9 531.8 1154.9 C531.8 1154.9 536.3 1157.7 536.9 1160 C538.6 1166.2 542 1191.8 542 1191.8 C542 1191.8 552.2 1189.3 552.2 1189.3 C552.2 1189.3 555.8 1169.8 557.3 1160 C559 1148.8 559.1 1134.2 562.4 1121.8 C565.8 1109.1 572.1 1094.3 577.7 1083.6 C582.4 1074.5 589.1 1065 595.5 1058.2 C601.3 1052 615.8 1042.9 615.8 1042.9 C615.8 1042.9 656.6 1037.8 656.6 1037.8 C656.6 1037.8 667.2 977.2 659.1 969.1Z"/>
</g>
<path fill="#fff" d="M689.5 427 C689.5 427 691.2 439.5 692 445 C692.7 450 693.3 455 694 460 C694.8 465.2 695.9 470.6 696.5 476 C697.2 482.7 698 492 698.5 500 C699.1 509 700.1 520.7 700 530 C699.9 538.7 698 556 698 556 C698 556 692.2 549 690 545 C687.2 539.8 683.7 531.7 681 525 C678.4 518.4 675.7 511.7 674 505 C672.4 498.5 671.2 491.2 671 485 C670.8 479.3 671.7 473.5 672.5 468 C673.3 462.6 674.4 457 676 452 C677.5 447.2 679.8 442.2 682 438 C684.1 434.1 689.5 427 689.5 427Z"/>
<g fill="#f4777f" stroke="#f4777f" stroke-width="1" stroke-linejoin="round">
<path d="M703.1 415.6 C703.1 415.6 712 415.6 712 415.6 C712 415.6 714.6 425.7 715.1 430.9 C716 441.9 716.5 464.9 717.6 481.8 C718.7 498.8 721 519.2 721.7 532.7 C722.2 542.9 723.1 556.5 721.7 563.3 C720.8 567.6 716.2 573.5 713.3 573.5 C710.4 573.5 705.7 567.6 704.4 563.3 C702.2 556.5 701.8 542.9 700.6 532.7 C698.9 519.2 696.5 496.7 694.7 481.8 C693.1 469.1 690 452.5 689.6 443.6 C689.4 438.5 689.9 433 692.2 428.4 C694.4 423.7 703.1 415.6 703.1 415.6Z"/>
<path d="M597.8 1280.4 L554.6 1304.6 L580 1317.3 L587.7 1304.6Z"/>
<path d="M625.8 1298.2 L610.6 1340.2 L638.6 1341.5 L630.9 1317.3Z"/>
<path d="M681.8 1235.8 L697.1 1261.3 L709.8 1291.8 L708.6 1323.7 L690.8 1327.5 L693.3 1291.8 L686.9 1253.6Z"/>
</g>
<ellipse cx="1258.2" cy="1043.8" rx="271.8" ry="263.3" fill="#f4777f" stroke="#c8202c" stroke-width="4.5"/>
<path fill-rule="evenodd" fill="#9dc3e6" d="M1535.8 1039.4a275 267.2 0 1 0 550 0a275 267.2 0 1 0 -550 0ZM1615.6 1038.8a194 191.8 0 1 0 388 0a194 191.8 0 1 0 -388 0Z"/>
<ellipse cx="1810.8" cy="1039.4" rx="273.6" ry="265.8" fill="none" stroke="#2e6399" stroke-width="3.8"/>
<ellipse cx="1809.6" cy="1038.8" rx="195.4" ry="193.2" fill="none" stroke="#2e6399" stroke-width="3.8"/>
<g fill="#fabd1c"><rect x="1251.6" y="796" width="10" height="494.5"/><path d="M1256.6 780.5 L1279.6 824.5 L1256.6 811.5 L1233.6 824.5 Z"/><path d="M1256.6 1306 L1279.6 1262 L1256.6 1275 L1233.6 1262 Z"/></g>
<g fill="#fabd1c"><rect x="1789.6" y="787.2" width="10" height="502.8"/><path d="M1794.6 773.7 L1815.4 812.7 L1794.6 800.7 L1773.8 812.7 Z"/><path d="M1794.6 1303.5 L1815.4 1264.5 L1794.6 1276.5 L1773.8 1264.5 Z"/></g>
<g fill="#fabd1c"><rect x="1816.4" y="862" width="10" height="350"/><path d="M1821.4 848.5 L1842.9 888.5 L1821.4 875.5 L1799.9 888.5 Z"/><path d="M1821.4 1225.5 L1842.9 1185.5 L1821.4 1198.5 L1799.9 1185.5 Z"/></g>
<g fill="#fabd1c"><rect x="1818" y="787.5" width="6.5" height="45.5"/><path d="M1821.3 777 L1833.1 799 L1821.3 798 L1809.5 799 Z"/><path d="M1821.3 843.5 L1833.1 821.5 L1821.3 822.5 L1809.5 821.5 Z"/></g>
<path d="M1884 741 C1883.6 743.7 1882.7 751.9 1881.5 757 C1880.3 762.1 1878.1 768.1 1876.7 771.9 C1875.7 774.6 1874.5 777.1 1873.1 779.6 C1871.5 782.4 1869.5 785.9 1867.1 788.6 C1864.6 791.5 1861.5 794.5 1858.2 796.9 C1854.7 799.4 1850.3 801.8 1846.3 803.5 C1842.5 805.1 1837.5 806.2 1834.4 807 C1832.3 807.5 1829 808 1827.9 808.2" fill="none" stroke="#10141c" stroke-width="2.8"/>
<text x="1179.3" y="1060" font-size="76" fill="#fff" font-weight="bold" textLength="58.9" lengthAdjust="spacingAndGlyphs">A</text>
<text x="1852" y="726.4" font-size="67.5" fill="#1f4e79" font-weight="normal" textLength="45.6" lengthAdjust="spacingAndGlyphs">B</text>
<text x="1898.9" y="741" font-size="45" fill="#1f4e79" font-weight="normal" textLength="44.2" lengthAdjust="spacingAndGlyphs">wt</text>
<text x="1677.2" y="971.2" font-size="61.5" fill="#1f4e79" font-weight="bold" textLength="40.7" lengthAdjust="spacingAndGlyphs">B</text>
<text x="1720.5" y="982.2" font-size="40.5" fill="#1f4e79" font-weight="bold" textLength="62.3" lengthAdjust="spacingAndGlyphs">out</text>
<text x="1868.7" y="1102.1" font-size="61.5" fill="#1f4e79" font-weight="bold" textLength="40.7" lengthAdjust="spacingAndGlyphs">B</text>
<text x="1910.8" y="1115" font-size="41.5" fill="#1f4e79" font-weight="bold" textLength="36.6" lengthAdjust="spacingAndGlyphs">in</text>
<rect x="686.3" y="425" width="98.4" height="59.9" fill="none" stroke="#161a20" stroke-width="4"/>
<path d="M690.5 449.5 L696.5 443.5 L715.5 439.5 L717.7 441 L717.7 455.2 L712 456.9 L694 456 L690.5 452Z" fill="#e5302c"/>
<path d="M694 442.5 L716 437.8" stroke="#d8262a" stroke-width="2.4" stroke-dasharray="2.2 2.4" fill="none"/>
<ellipse cx="741.8" cy="457.8" rx="22.5" ry="8.6" transform="rotate(-6 741.8 457.8)" fill="#8fbbe6" stroke="#3b6fb0" stroke-width="2" stroke-dasharray="2.4 1.6"/>
<path d="M724 450.5 L757 449.5" stroke="#3b6fb0" stroke-width="2" stroke-dasharray="2.2 3" fill="none"/>
<path d="M782 487.5 L1004 776.4" stroke="#14171c" stroke-width="2.7" fill="none"/>
<path d="M1008.8 782.9 L989.3 773.8 L1000.6 771.6 L1004.2 761.8 Z" fill="#14171c"/>
<path d="M954 132.6 L887.9 154.7 M954 132.6 L898 176.4 M564.6 184.5 L612.9 185.3 M564.6 184.5 L596.4 205.6 M523.3 400.4 L490.2 418.2 M523.3 400.4 L491.5 455.1 M791.9 609.1 L724.4 655 M567.5 936.8 L614.6 1015.7 M738.1 1077.3 L656.6 1132 M239.1 1026.4 L315.5 979.3 M239.1 1026.4 L295.1 1007.3 M239.1 1026.4 L323.1 1091.3 M239.1 1026.4 L333.3 1128.2" stroke="#26303c" stroke-width="1.6" fill="none"/>
<text x="962.6" y="131.5" font-size="40" fill="#151b24" font-weight="normal" text-anchor="start" textLength="29.6" lengthAdjust="spacingAndGlyphs">G</text>
<text x="990.5" y="141.1" font-size="29" fill="#151b24" font-weight="normal" text-anchor="start" textLength="14.6" lengthAdjust="spacingAndGlyphs">3</text>
<text x="522.1" y="182.5" font-size="40" fill="#151b24" font-weight="normal" text-anchor="start" textLength="29.6" lengthAdjust="spacingAndGlyphs">G</text>
<text x="550" y="191.1" font-size="29" fill="#151b24" font-weight="normal" text-anchor="start" textLength="14.6" lengthAdjust="spacingAndGlyphs">3</text>
<text x="631.6" y="251.2" font-size="40" fill="#151b24" font-weight="normal" text-anchor="start" textLength="29.6" lengthAdjust="spacingAndGlyphs">G</text>
<text x="659.5" y="260.8" font-size="29" fill="#151b24" font-weight="normal" text-anchor="start" textLength="14.6" lengthAdjust="spacingAndGlyphs">2</text>
<text x="687.6" y="233.4" font-size="40" fill="#151b24" font-weight="normal" text-anchor="start" textLength="29.6" lengthAdjust="spacingAndGlyphs">G</text>
<text x="715.5" y="242.2" font-size="29" fill="#151b24" font-weight="normal" text-anchor="start" textLength="14.6" lengthAdjust="spacingAndGlyphs">2</text>
<text x="832.7" y="242.3" font-size="40" fill="#151b24" font-weight="normal" text-anchor="start" textLength="29.6" lengthAdjust="spacingAndGlyphs">G</text>
<text x="860.6" y="251.1" font-size="29" fill="#151b24" font-weight="normal" text-anchor="start" textLength="14.6" lengthAdjust="spacingAndGlyphs">2</text>
<text x="464.8" y="291.9" font-size="40" fill="#151b24" font-weight="normal" text-anchor="start" textLength="29.6" lengthAdjust="spacingAndGlyphs">G</text>
<text x="492.7" y="302.7" font-size="29" fill="#151b24" font-weight="normal" text-anchor="start" textLength="14.6" lengthAdjust="spacingAndGlyphs">1</text>
<text x="695.3" y="340.3" font-size="40" fill="#151b24" font-weight="normal" text-anchor="start" textLength="29.6" lengthAdjust="spacingAndGlyphs">G</text>
<text x="723.2" y="349.9" font-size="29" fill="#151b24" font-weight="normal" text-anchor="start" textLength="14.6" lengthAdjust="spacingAndGlyphs">1</text>
<text x="762.7" y="335.2" font-size="40" fill="#151b24" font-weight="normal" text-anchor="start" textLength="29.6" lengthAdjust="spacingAndGlyphs">G</text>
<text x="790.6" y="344.8" font-size="29" fill="#151b24" font-weight="normal" text-anchor="start" textLength="14.6" lengthAdjust="spacingAndGlyphs">1</text>
<text x="524.7" y="404" font-size="40" fill="#151b24" font-weight="normal" text-anchor="start" textLength="29.6" lengthAdjust="spacingAndGlyphs">G</text>
<text x="552.6" y="413.6" font-size="29" fill="#151b24" font-weight="normal" text-anchor="start" textLength="14.6" lengthAdjust="spacingAndGlyphs">2</text>
<text x="568.7" y="480.3" font-size="40" fill="#151b24" font-weight="normal" text-anchor="start" textLength="29.6" lengthAdjust="spacingAndGlyphs">G</text>
<text x="596.6" y="489.1" font-size="29" fill="#151b24" font-weight="normal" text-anchor="start" textLength="14.6" lengthAdjust="spacingAndGlyphs">1</text>
<text x="645.1" y="550.3" font-size="40" fill="#151b24" font-weight="normal" text-anchor="start" textLength="29.6" lengthAdjust="spacingAndGlyphs">G</text>
<text x="673" y="559.1" font-size="29" fill="#151b24" font-weight="normal" text-anchor="start" textLength="14.6" lengthAdjust="spacingAndGlyphs">0</text>
<text x="734.2" y="531.2" font-size="40" fill="#151b24" font-weight="normal" text-anchor="start" textLength="29.6" lengthAdjust="spacingAndGlyphs">G</text>
<text x="762.1" y="540" font-size="29" fill="#151b24" font-weight="normal" text-anchor="start" textLength="14.6" lengthAdjust="spacingAndGlyphs">0</text>
<text x="581.4" y="611.4" font-size="40" fill="#151b24" font-weight="normal" text-anchor="start" textLength="29.6" lengthAdjust="spacingAndGlyphs">G</text>
<text x="609.3" y="620.2" font-size="29" fill="#151b24" font-weight="normal" text-anchor="start" textLength="14.6" lengthAdjust="spacingAndGlyphs">0</text>
<text x="191.6" y="1037.6" font-size="40" fill="#151b24" font-weight="normal" text-anchor="start" textLength="29.6" lengthAdjust="spacingAndGlyphs">G</text>
<text x="219.5" y="1048.7" font-size="29" fill="#151b24" font-weight="normal" text-anchor="start" textLength="14.6" lengthAdjust="spacingAndGlyphs">2</text>
<text x="367.2" y="1021" font-size="40" fill="#151b24" font-weight="normal" text-anchor="start" textLength="29.6" lengthAdjust="spacingAndGlyphs">G</text>
<text x="395.1" y="1030.6" font-size="29" fill="#151b24" font-weight="normal" text-anchor="start" textLength="14.6" lengthAdjust="spacingAndGlyphs">1</text>
<text x="381.2" y="1082.1" font-size="40" fill="#151b24" font-weight="normal" text-anchor="start" textLength="29.6" lengthAdjust="spacingAndGlyphs">G</text>
<text x="409.1" y="1091.7" font-size="29" fill="#151b24" font-weight="normal" text-anchor="start" textLength="14.6" lengthAdjust="spacingAndGlyphs">1</text>
<text x="483.1" y="1031.2" font-size="40" fill="#151b24" font-weight="normal" text-anchor="start" textLength="29.6" lengthAdjust="spacingAndGlyphs">G</text>
<text x="511" y="1039.2" font-size="29" fill="#151b24" font-weight="normal" text-anchor="start" textLength="14.6" lengthAdjust="spacingAndGlyphs">0</text>
<text x="540.3" y="1097.2" font-size="40" fill="#151b24" font-weight="normal" text-anchor="start" textLength="29.6" lengthAdjust="spacingAndGlyphs">G</text>
<text x="568.2" y="1106" font-size="29" fill="#151b24" font-weight="normal" text-anchor="start" textLength="14.6" lengthAdjust="spacingAndGlyphs">0</text>
<text x="677.7" y="1233.3" font-size="40" fill="#151b24" font-weight="normal" text-anchor="start" textLength="29.6" lengthAdjust="spacingAndGlyphs">G</text>
<text x="705.6" y="1242.2" font-size="29" fill="#151b24" font-weight="normal" text-anchor="start" textLength="14.6" lengthAdjust="spacingAndGlyphs">0</text>
<text x="530" y="1286.5" font-size="40" fill="#151b24" font-weight="normal" text-anchor="start" textLength="29.6" lengthAdjust="spacingAndGlyphs">G</text>
<text x="557.9" y="1295.1" font-size="29" fill="#151b24" font-weight="normal" text-anchor="start" textLength="14.6" lengthAdjust="spacingAndGlyphs">0</text>
<text x="577.1" y="1331" font-size="40" fill="#151b24" font-weight="normal" text-anchor="start" textLength="29.6" lengthAdjust="spacingAndGlyphs">G</text>
<text x="605" y="1340.6" font-size="29" fill="#151b24" font-weight="normal" text-anchor="start" textLength="14.6" lengthAdjust="spacingAndGlyphs">0</text>
<text x="631.8" y="1342.5" font-size="40" fill="#151b24" font-weight="normal" text-anchor="start" textLength="29.6" lengthAdjust="spacingAndGlyphs">G</text>
<text x="659.7" y="1351.1" font-size="29" fill="#151b24" font-weight="normal" text-anchor="start" textLength="14.6" lengthAdjust="spacingAndGlyphs">0</text>
<text x="1041.5" y="278.7" font-size="39" fill="#151b24" font-weight="normal" text-anchor="start" textLength="139.5" lengthAdjust="spacingAndGlyphs">Trachea</text>
<text x="918.6" y="550.6" font-size="39" fill="#151b24" font-weight="normal" text-anchor="start" textLength="196.9" lengthAdjust="spacingAndGlyphs">Right main</text>
<text x="919.3" y="605.6" font-size="39" fill="#151b24" font-weight="normal" text-anchor="start" textLength="168.6" lengthAdjust="spacingAndGlyphs">bronchus</text>
<text x="564.9" y="684.5" font-size="39" fill="#151b24" font-weight="normal" text-anchor="start" textLength="218.8" lengthAdjust="spacingAndGlyphs">Upper lobar</text>
<text x="565.5" y="739.1" font-size="39" fill="#151b24" font-weight="normal" text-anchor="start" textLength="168.6" lengthAdjust="spacingAndGlyphs">bronchus</text>
<text x="484.2" y="870.1" font-size="39" fill="#151b24" font-weight="normal" text-anchor="start" textLength="234.7" lengthAdjust="spacingAndGlyphs">Middle lobar</text>
<text x="485.1" y="924.6" font-size="39" fill="#151b24" font-weight="normal" text-anchor="start" textLength="169.5" lengthAdjust="spacingAndGlyphs">bronchus</text>
<text x="749.3" y="1022" font-size="39" fill="#151b24" font-weight="normal" text-anchor="start" textLength="218.5" lengthAdjust="spacingAndGlyphs">Lower lobar</text>
<text x="750" y="1075.9" font-size="39" fill="#151b24" font-weight="normal" text-anchor="start" textLength="170.6" lengthAdjust="spacingAndGlyphs">bronchus</text>
</svg></body></html>
